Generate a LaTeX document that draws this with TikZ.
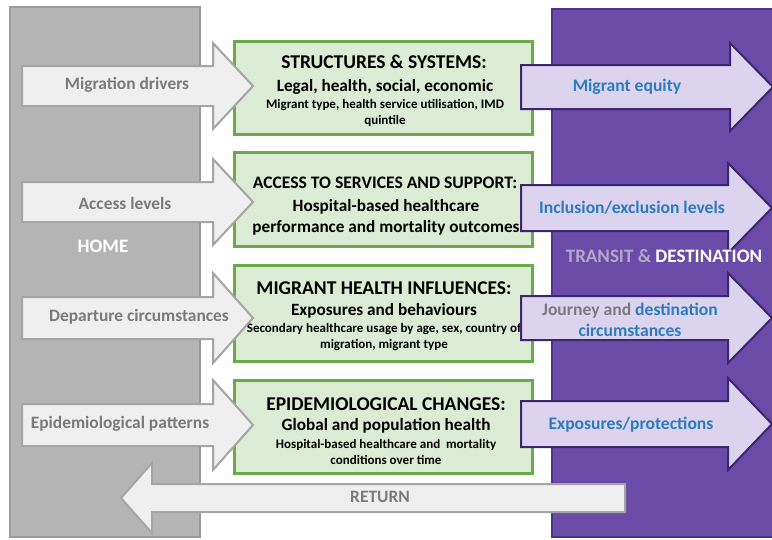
\documentclass[tikz,border=0pt]{standalone}
\usepackage{fontspec}
\setmainfont{Carlito}
\usepackage{tikz}
\usetikzlibrary{positioning}
\definecolor{homefill}{HTML}{B4B4B4}
\definecolor{homeline}{HTML}{9A9A9A}
\definecolor{destfill}{HTML}{6A4CA8}
\definecolor{destline}{HTML}{4A3590}
\definecolor{greyarrow}{HTML}{EFEFEF}
\definecolor{greyline}{HTML}{A5A5A5}
\definecolor{lavender}{HTML}{DCD4EE}
\definecolor{lavline}{HTML}{3B2770}
\definecolor{boxfill}{HTML}{DCEBD3}
\definecolor{boxline}{HTML}{6AAA4A}
\definecolor{bluetext}{HTML}{2C7BBF}
\definecolor{greytext}{HTML}{7A7A7A}
\definecolor{transit}{HTML}{B0A8C8}
\tikzstyle{homecol} = [draw=homeline, line width=2pt, fill=homefill]
\tikzstyle{destcol} = [draw=destline, line width=1.5pt, fill=destfill]
\tikzstyle{stagebox} = [rectangle, draw=boxline, line width=3.5pt, fill=boxfill]
\tikzstyle{homearrow} = [draw=greyline, line width=2pt, fill=greyarrow, line join=miter]
\tikzstyle{destarrow} = [draw=lavline, line width=2pt, fill=lavender, line join=miter]
\tikzstyle{hometext} = [text=greytext, font=\bfseries\fontsize{17.4}{19}\selectfont]
\tikzstyle{desttext} = [text=bluetext, font=\bfseries\fontsize{17.6}{21}\selectfont, align=center]
\tikzstyle{boxtitle} = [font=\bfseries\fontsize{19.5}{21}\selectfont]
\tikzstyle{boxsub} = [font=\bfseries\fontsize{17.2}{21}\selectfont, align=center]
\tikzstyle{boxsmall} = [font=\bfseries\fontsize{13}{16.5}\selectfont, align=center]
\tikzstyle{columnlabel} = [font=\bfseries\fontsize{19}{21}\selectfont]

\begin{document}
\begin{tikzpicture}[x=1pt, y=-1pt]
\useasboundingbox (0,0) rectangle (772,539);
% home and destination columns
\node (home) [homecol, minimum width=190pt, minimum height=530pt, inner sep=0pt] at (105,272) {};
\node (dest) [destcol, minimum width=232pt, minimum height=528pt, inner sep=0pt] at (668,273) {};
\node (homeL) [columnlabel, text=white] at (103,246) {HOME};

% green stage boxes
\node (structures) [stagebox, minimum width=298pt, minimum height=93pt] at (383.5,88) {};
\node (access) [stagebox, minimum width=298pt, minimum height=94pt] at (383.5,199.5) {};
\node (influences) [stagebox, minimum width=298pt, minimum height=96pt] at (383.5,313.5) {};
\node (changes) [stagebox, minimum width=298pt, minimum height=93pt] at (383.5,427) {};

\node (structuresT) [boxtitle] at (384,62) {STRUCTURES \& SYSTEMS:};
\node (structuresS) [boxsub] at (385,87) {Legal, health, social, economic};
\node (structuresD) [boxsmall] at (385,113) {Migrant type, health service utilisation, IMD\\quintile};

\node (accessT) [boxtitle, font=\bfseries\fontsize{17.6}{19}\selectfont] at (385,183) {ACCESS TO SERVICES AND SUPPORT:};
\node (accessS) [boxsub] at (386,217) {Hospital-based healthcare\\performance and mortality outcomes};

\node (influencesT) [boxtitle] at (384,288) {MIGRANT HEALTH INFLUENCES:};
\node (influencesS) [boxsub] at (384,311) {Exposures and behaviours};
\node (influencesD) [boxsmall] at (384,337) {Secondary healthcare usage by age, sex, country of\\migration, migrant type};

\node (changesT) [boxtitle] at (386,404) {EPIDEMIOLOGICAL CHANGES:};
\node (changesS) [boxsub] at (386,426) {Global and population health};
\node (changesD) [boxsmall] at (386,452) {Hospital-based healthcare and\ \ mortality\\conditions over time};

% arrows out of home
\draw [homearrow] (22,66) -- ++(191,0) -- ++(0,-23) -- ++(40,43) -- ++(-40,43) -- ++(0,-23) -- ++(-191,0) -- cycle;
\draw [homearrow] (22,182) -- ++(191,0) -- ++(0,-23) -- ++(40,43) -- ++(-40,43) -- ++(0,-23) -- ++(-191,0) -- cycle;
\draw [homearrow] (22,297) -- ++(191,0) -- ++(0,-24) -- ++(40,45) -- ++(-40,45) -- ++(0,-24) -- ++(-191,0) -- cycle;
\draw [homearrow] (22,404) -- ++(191,0) -- ++(0,-24) -- ++(40,45) -- ++(-40,45) -- ++(0,-24) -- ++(-191,0) -- cycle;
\node (drivers) [hometext] at (127,85) {Migration drivers};
\node (levels) [hometext] at (125,203) {Access levels};
\node (departure) [hometext] at (139,317) {Departure circumstances};
\node (patterns) [hometext] at (120,424) {Epidemiological patterns};

% arrows into transit and destination
\draw [destarrow] (521,65) -- ++(209,0) -- ++(0,-22) -- ++(43,44) -- ++(-43,44) -- ++(0,-22) -- ++(-209,0) -- cycle;
\draw [destarrow] (521,185) -- ++(207,0) -- ++(0,-22) -- ++(44,45) -- ++(-44,45) -- ++(0,-22) -- ++(-207,0) -- cycle;
\draw [destarrow] (521,296) -- ++(207,0) -- ++(0,-23) -- ++(44,45) -- ++(-44,45) -- ++(0,-23) -- ++(-207,0) -- cycle;
\draw [destarrow] (521,401) -- ++(207,0) -- ++(0,-23) -- ++(44,46) -- ++(-44,46) -- ++(0,-23) -- ++(-207,0) -- cycle;
\node (equity) [desttext] at (627,87) {Migrant equity};
\node (inclusion) [desttext] at (632,208) {Inclusion/exclusion levels};
\node (journey) [desttext] at (630,320) {\textcolor{greytext}{Journey and} destination\\circumstances};
\node (protections) [desttext] at (631,425) {Exposures/protections};
\node (destL) [columnlabel] at (664,256) {\textcolor{transit}{TRANSIT \&} \textcolor{white}{DESTINATION}};

% return arrow
\draw [homearrow] (625,484) -- (152,484) -- (152,463) -- (121,498) -- (152,533) -- (152,512) -- (625,512) -- cycle;
\node (return) [hometext] at (380,497) {RETURN};
\end{tikzpicture}
\end{document}
